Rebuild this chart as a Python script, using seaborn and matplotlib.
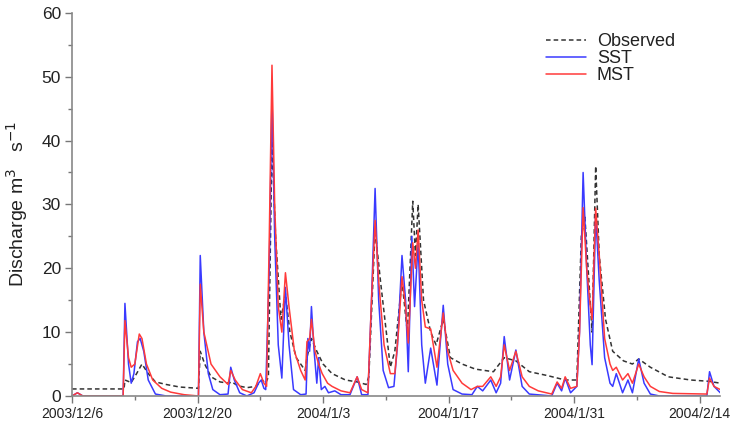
import numpy as np
import pandas as pd
import matplotlib
matplotlib.use("Agg")
import matplotlib.pyplot as plt
import matplotlib.dates as mdates
from matplotlib.ticker import MultipleLocator, FuncFormatter
import seaborn as sns

# ---- data (days since 2003-12-06, discharge m3/s) ----
start = pd.Timestamp("2003-12-06")

obs_day = [0, 5.8, 5.9, 6.6, 7.2, 7.8, 8.5, 9.3, 10.5, 12, 14.1, 14.3, 14.8, 15.5, 16.5, 17.5,
           17.8, 18.5, 19.5, 20.5, 21.2, 21.6, 21.9, 22.3, 22.7, 23.3, 23.8, 24.3, 25.0, 26.0,
           26.2, 26.7, 27.3, 28.0, 29.0, 30.5, 31.8, 32.8, 33.1, 33.8, 34.4, 35.5, 36.0, 36.8,
           37.4, 38.0, 38.3, 38.6, 39.2, 40.0, 40.6, 41.4, 42.2, 43.5, 45, 47, 48.2, 49.5, 51,
           53, 55, 56.3, 56.8, 57.2, 58.0, 58.4, 58.8, 59.5, 60.3, 61.5, 62.5, 63.2, 64.5, 66.5,
           69, 71, 72.3]
obs_val = [1.1, 1.1, 2.5, 2.1, 3.5, 5.0, 3.5, 2.2, 1.8, 1.4, 1.2, 7.0, 5.0, 3.0, 2.2, 2.0,
           2.2, 1.6, 1.3, 1.5, 2.5, 2.0, 3.0, 40, 25, 12, 16, 10, 6, 4,
           6, 9, 7, 5, 3.5, 2.5, 2.2, 1.8, 3, 26, 18, 4.5, 7, 18,
           10, 30.5, 22, 30, 15, 10, 8, 12, 6, 5, 4.2, 3.8, 6, 5.5, 3.8,
           3.2, 2.5, 2.5, 25, 28, 10, 36, 22, 12, 7, 5.5, 5, 5.8, 4.5, 3,
           2.5, 2.3, 2.0]

sst_day = [0, 0.6, 1.2, 5.7, 5.9, 6.3, 6.6, 6.9, 7.3, 7.6, 8.0, 8.5, 9.3, 10.5, 14.1, 14.3,
           14.7, 15.2, 15.7, 16.5, 17.4, 17.7, 18.1, 18.7, 19.5, 20.3, 20.8, 21.1, 21.4, 21.6,
           22.0, 22.3, 22.6, 23.0, 23.4, 23.8, 24.2, 24.7, 25.5, 26.1, 26.3, 26.5, 26.7, 27.0,
           27.3, 27.5, 27.8, 28.2, 28.6, 29.3, 30, 31, 31.8, 32.3, 33.0, 33.4, 33.8, 34.2, 34.7,
           35.3, 35.9, 36.3, 36.8, 37.2, 37.5, 37.9, 38.2, 38.6, 39.0, 39.4, 40.0, 40.7, 41.4,
           41.9, 42.5, 43.5, 44.6, 45.2, 45.8, 46.7, 47.3, 47.8, 48.2, 48.8, 49.5, 50.2, 51,
           53.5, 54.1, 54.6, 55, 55.6, 56.3, 56.6, 57.0, 57.4, 57.8, 58.0, 58.4, 58.8, 59.4,
           60.0, 60.3, 60.7, 61.4, 62, 62.5, 63.2, 63.8, 64.5, 65.5, 70.8, 71.1, 71.6, 72.3]
sst_val = [0, 0.5, 0, 0, 14.5, 5, 2, 3.5, 8.5, 9, 7, 2.5, 0.3, 0, 0, 22,
           10, 3.5, 1, 0.2, 0.3, 4.5, 2.5, 0.5, 0, 0.5, 2, 2.5, 1.2, 1,
           20, 47, 25, 8, 2.8, 17, 8, 1, 0.2, 0.3, 9, 7, 14, 7,
           2, 6, 1, 1.5, 0.5, 0.8, 0.2, 0.2, 3, 0.2, 0.2, 15, 32.5, 15, 4,
           1.3, 1.5, 8, 22, 15, 3.8, 25, 14, 24, 8, 2, 7.5, 1.7, 14.2,
           5, 1, 0.3, 0.2, 1.5, 0.8, 2.5, 0.5, 2, 9.3, 2.5, 7.2, 1.5, 0.3,
           0, 2, 0.8, 2.8, 0.5, 1.5, 10, 35, 20, 8, 4.9, 28.5, 18, 6,
           2, 1.5, 3.5, 0.5, 2.5, 0.5, 5.8, 2, 0.3, 0, 0, 3.8, 1.5, 0.5]

mst_day = [0, 0.6, 1.2, 5.7, 5.9, 6.3, 6.6, 7.0, 7.5, 7.8, 8.3, 9.0, 10, 11, 12.5, 14.1,
           14.3, 14.7, 15.5, 16.5, 17.4, 17.7, 18.2, 19, 20, 20.5, 21.0, 21.4, 21.7, 22.0,
           22.3, 22.6, 23.0, 23.4, 23.8, 24.2, 24.8, 25.5, 26.0, 26.2, 26.5, 26.7, 27.1, 27.5,
           27.9, 28.5, 29, 30, 31, 31.8, 32.3, 33.0, 33.4, 33.8, 34.2, 34.8, 35.5, 36.0, 36.4,
           36.8, 37.2, 37.5, 38.0, 38.3, 38.6, 39.0, 39.4, 40.0, 40.7, 41.4, 41.9, 42.5, 43.5,
           44.5, 45.2, 45.8, 46.7, 47.3, 47.8, 48.2, 48.8, 49.5, 50.2, 51, 52, 53.5, 54.1, 54.6,
           55, 55.6, 56.3, 56.6, 57.0, 57.4, 57.8, 58.0, 58.4, 58.8, 59.4, 60.0, 60.3, 60.7,
           61.4, 62, 62.5, 63.2, 63.8, 64.5, 65.5, 67, 70.8, 71.1, 71.6, 72.3]
mst_val = [0, 0.5, 0, 0, 11.8, 6, 4.5, 5, 9.7, 9, 5, 2.5, 1.2, 0.6, 0.2, 0,
           17.5, 10, 5, 3, 1.8, 4, 2.5, 1, 0.5, 1.5, 3.5, 2, 1.5, 25,
           51.8, 30, 14, 10, 19.3, 14, 7, 4, 2.5, 8.5, 9, 12, 7, 5,
           3.5, 2, 1.5, 0.8, 0.5, 3, 1, 0.5, 15, 27.5, 18, 8, 3.5, 3.5, 10,
           18.7, 14, 8.3, 24, 20, 26, 15, 10.8, 10.5, 4.5, 13, 7, 4, 2,
           1, 1.5, 1.5, 3.0, 1.5, 3, 8, 4, 7, 3, 1.5, 0.8, 0.3, 2.2, 1.2,
           3, 1.2, 1.5, 10, 29.5, 20, 14, 12, 29.4, 22, 9, 5, 4, 4.5,
           2.5, 3.5, 2, 5, 3, 1.5, 0.7, 0.4, 0.3, 2.8, 1.5, 1.0]

tick_dates = ["2003-12-06", "2003-12-20", "2004-01-03", "2004-01-17", "2004-01-31", "2004-02-14"]


def to_frame(days, vals, name):
    return pd.DataFrame({"date": start + pd.to_timedelta(days, unit="D"),
                         "q": vals, "series": name})


df = pd.concat([to_frame(obs_day, obs_val, "Observed"),
                to_frame(sst_day, sst_val, "SST"),
                to_frame(mst_day, mst_val, "MST")], ignore_index=True)

# ---- plot ----
sns.set_style("white")
plt.rcParams["font.family"] = ["Liberation Sans", "DejaVu Sans"]

fig = plt.figure(figsize=(7.35, 4.29), dpi=100)
ax = fig.add_axes([0.098, 0.077, 0.882, 0.893])

sns.lineplot(data=df, x="date", y="q", hue="series", style="series",
             palette={"Observed": "#333333", "SST": "#3a3aff", "MST": "#ff3a3a"},
             dashes={"Observed": (3, 2), "SST": "", "MST": ""},
             linewidth=1.1, estimator=None, sort=False, ax=ax)

ax.set_xlim(start, start + pd.Timedelta(days=72.3))
ax.set_ylim(0, 60)

ticks = pd.to_datetime(tick_dates)
ax.set_xticks(ticks)
ax.set_xticks(ticks[:-1] + pd.Timedelta(days=7), minor=True)
ax.xaxis.set_major_formatter(FuncFormatter(
    lambda v, p: (lambda d: f"{d.year}/{d.month}/{d.day}")(mdates.num2date(v))))
ax.yaxis.set_major_locator(MultipleLocator(10))
ax.yaxis.set_minor_locator(MultipleLocator(5))

ax.tick_params(axis="both", which="both", direction="out", colors="#777777",
               labelcolor="#222222", bottom=True, left=True)
ax.tick_params(which="major", length=5, width=1)
ax.tick_params(which="minor", length=3, width=1)
ax.tick_params(axis="x", labelsize=10, pad=3)
ax.tick_params(axis="y", labelsize=12.5, pad=3)

for s in ["top", "right"]:
    ax.spines[s].set_visible(False)
for s in ["left", "bottom"]:
    ax.spines[s].set_color("#888888")
    ax.spines[s].set_linewidth(1.2)

ax.set_xlabel("")
ax.set_ylabel("Discharge m$^3$   s$^{-1}$", fontsize=14, color="#222222", labelpad=8)

leg = ax.legend(loc="upper right", bbox_to_anchor=(0.955, 0.99), frameon=False,
                fontsize=13, handlelength=2.2, handletextpad=0.6, labelspacing=0.0,
                title=None)
for t in leg.get_texts():
    t.set_color("#222222")

fig.savefig("out.png", dpi=100)
